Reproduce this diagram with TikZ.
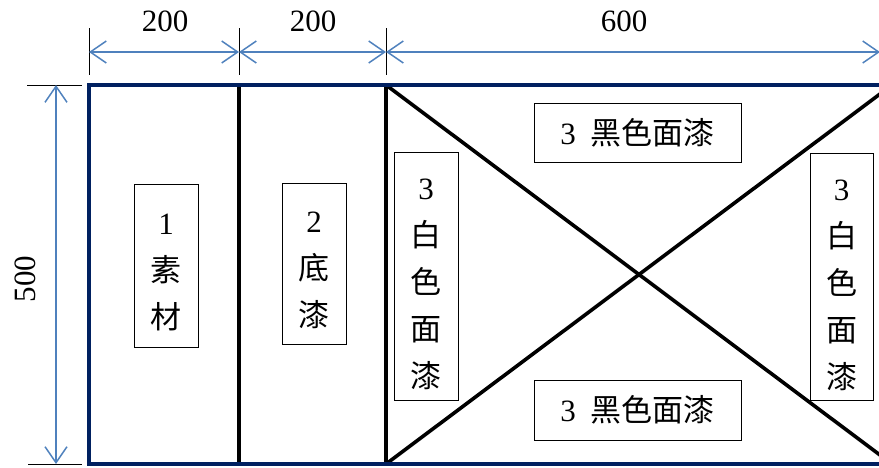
\documentclass[tikz,border=0pt]{standalone}
\usepackage{fontspec}
\setmainfont{Liberation Serif}
\newfontfamily\cjk{Noto Sans CJK TC}
\usepackage{tikz}
\usetikzlibrary{arrows.meta}
\definecolor{dimblue}{RGB}{79,129,189}
\definecolor{framenavy}{RGB}{0,32,96}
\newcommand{\hz}[1]{{\cjk\fontsize{31}{47}\selectfont #1}}

\begin{document}
\begin{tikzpicture}[x=1pt, y=-1pt,
  dimline/.style={draw=dimblue, line width=1.5pt, {Straight Barb[length=16pt,width=22pt]}-{Straight Barb[length=16pt,width=22pt]}},
  dimtick/.style={draw=black, line width=1pt},
  dimtext/.style={font=\fontsize{31}{34}\selectfont, inner sep=0pt},
  labelbox/.style={draw, line width=1pt, align=center, inner sep=2pt, font=\fontsize{31}{47}\selectfont}]

\useasboundingbox (0,0) rectangle (879,467);

% Frame corners
\coordinate (tl) at (89,85);
\coordinate (br) at (892,464);
\coordinate (d1t) at (239,85);
\coordinate (d1b) at (239,464);
\coordinate (d2t) at (386,85);
\coordinate (d2b) at (386,464);
\coordinate (tr) at (892,85);

% Dimension points
\coordinate (ta) at (89,52);
\coordinate (tb) at (239,52);
\coordinate (tc) at (386,52);
\coordinate (td) at (880,52);
\coordinate (la) at (56,85);
\coordinate (lb) at (56,464);

% Ticks
\draw[dimtick] (89,28) -- (89,75);
\draw[dimtick] (239,28) -- (239,75);
\draw[dimtick] (386,28) -- (386,75);
\draw[dimtick] (27,85) -- (82,85);
\draw[dimtick] (28,464) -- (82,464);

% Dimension lines
\draw[dimline] (ta) -- (tb);
\draw[dimline] (tb) -- (tc);
\draw[dimline] (tc) -- (td);
\draw[dimline] (la) -- (lb);

% Dimension texts
\node[dimtext] (w1) at (165,21) {200};
\node[dimtext] (w2) at (313,21) {200};
\node[dimtext] (w3) at (624,21) {600};
\node[dimtext, rotate=90] (h1) at (25,279) {500};

% Dividers and cross
\draw[line width=3.3pt] (d1t) -- (d1b);
\draw[line width=3.3pt] (d2t) -- (d2b);
\draw[line width=3.6pt] (d2t) -- (br);
\draw[line width=3.6pt] (d2b) -- (tr);

% Outer frame
\draw[framenavy, line width=4.5pt] (tl) rectangle (br);

% Layer labels
\node[labelbox, minimum width=64pt, minimum height=163pt] (base) at (166,266) {\rule{0pt}{33pt}1\\\hz{素}\\\hz{材}};
\node[labelbox, minimum width=64pt, minimum height=161pt] (primer) at (314,264) {\rule{0pt}{34pt}2\\\hz{底}\\\hz{漆}};
\node[labelbox, fill=white, minimum width=64pt, minimum height=248pt] (white_l) at (426,276) {\rule{0pt}{38pt}3\\\hz{白}\\\hz{色}\\\hz{面}\\\hz{漆}};
\node[labelbox, fill=white, minimum width=63pt, minimum height=247pt] (white_r) at (841.5,276.5) {\rule{0pt}{38pt}3\\\hz{白}\\\hz{色}\\\hz{面}\\\hz{漆}};
\node[labelbox, fill=white, minimum width=207pt, minimum height=59pt] (black_t) at (637.5,132.5) {3\hspace{15pt}\hz{黑色面漆}};
\node[labelbox, fill=white, minimum width=207pt, minimum height=60pt] (black_b) at (637.5,410) {3\hspace{15pt}\hz{黑色面漆}};

\end{tikzpicture}
\end{document}
